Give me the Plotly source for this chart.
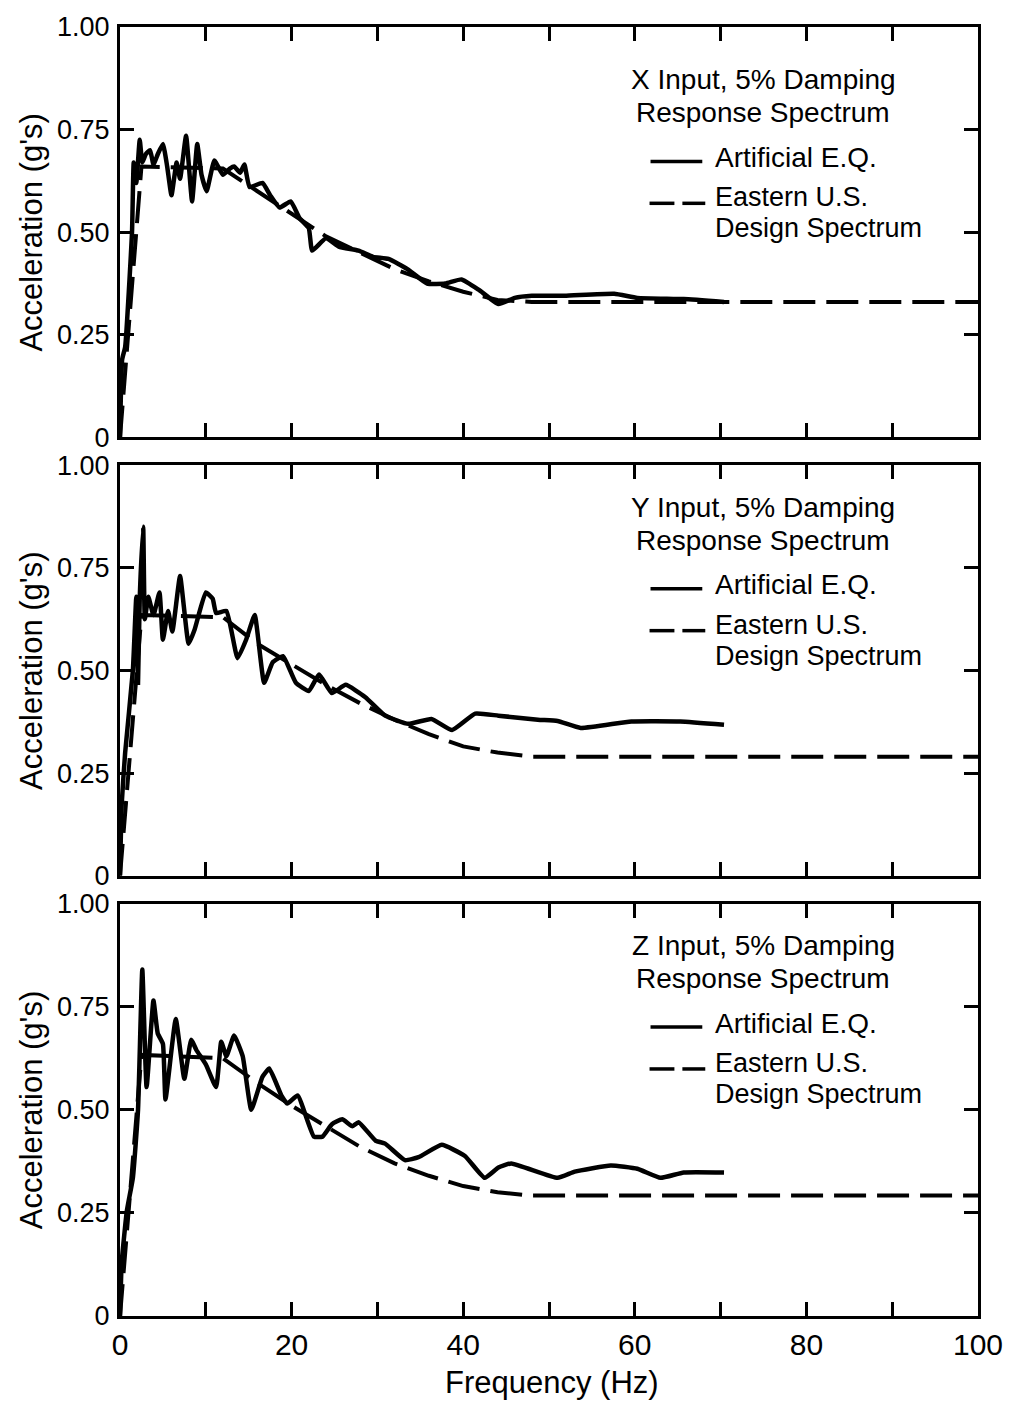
import plotly.graph_objects as go

# ---- Response spectra, 5% damping (frequency in Hz, acceleration in g) ----
freq_x = [0, 0.25, 0.6, 1.4, 1.6, 1.9, 2.3, 2.6, 3.0, 3.5, 3.9, 4.4, 5.0, 5.5, 6.0, 6.6, 7.0, 7.7,
          8.4, 9.0, 9.5, 10.1, 11.0, 12.0, 12.8, 13.3, 14.0, 14.5, 15.1, 16.6, 17.5, 18.6, 19.9,
          20.9, 22.0, 22.4, 24.0, 25.5, 27.8, 29.5, 31.3, 33.5, 35.8, 37.9, 39.8, 41.8, 44.1,
          46.0, 48.0, 51.8, 57.6, 60.3, 65.7, 70.4]
acc_x = [0, 0.19, 0.22, 0.50, 0.67, 0.62, 0.725, 0.67, 0.69, 0.70, 0.665, 0.69, 0.715, 0.66,
         0.59, 0.67, 0.63, 0.735, 0.575, 0.715, 0.64, 0.60, 0.675, 0.64, 0.655, 0.66, 0.645,
         0.665, 0.61, 0.62, 0.59, 0.56, 0.575, 0.535, 0.51, 0.455, 0.485, 0.465, 0.455, 0.44,
         0.435, 0.41, 0.375, 0.375, 0.385, 0.36, 0.325, 0.34, 0.345, 0.345, 0.35, 0.34, 0.337,
         0.33]

freq_y = [0, 0.2, 0.6, 1.5, 1.9, 2.1, 2.3, 2.7, 2.9, 3.3, 3.9, 4.6, 5.0, 5.6, 6.1, 7.0, 8.0, 8.7,
          10.0, 10.8, 11.2, 12.4, 13.7, 14.7, 15.7, 16.8, 17.8, 19.0, 20.5, 22.0, 23.2, 24.7,
          26.3, 28.6, 30.9, 33.6, 36.3, 38.7, 41.4, 44.1, 48.7, 51.0, 53.7, 59.6, 65.3, 70.4]
acc_y = [0, 0.175, 0.30, 0.50, 0.68, 0.47, 0.675, 0.85, 0.625, 0.68, 0.635, 0.69, 0.575, 0.645,
         0.595, 0.73, 0.565, 0.60, 0.69, 0.675, 0.64, 0.645, 0.53, 0.575, 0.635, 0.47, 0.52,
         0.535, 0.47, 0.45, 0.49, 0.445, 0.465, 0.435, 0.39, 0.37, 0.382, 0.355, 0.395, 0.39,
         0.38, 0.377, 0.36, 0.376, 0.376, 0.368]

freq_z = [0, 0.2, 0.8, 1.5, 2.1, 2.6, 3.1, 3.9, 4.4, 5.0, 5.3, 6.5, 7.5, 8.3, 8.9, 10.0, 11.2,
          11.8, 12.4, 13.3, 14.3, 15.3, 16.6, 17.4, 18.8, 19.5, 20.7, 22.6, 23.6, 24.7, 25.9,
          27.1, 27.8, 29.8, 30.9, 33.2, 34.8, 37.5, 40.2, 42.5, 44.1, 45.6, 51.0, 53.0, 57.2,
          60.3, 63.0, 65.7, 70.4]
acc_z = [0, 0.13, 0.255, 0.335, 0.50, 0.84, 0.555, 0.765, 0.685, 0.66, 0.525, 0.72, 0.575,
         0.67, 0.645, 0.61, 0.555, 0.665, 0.63, 0.68, 0.63, 0.50, 0.58, 0.60, 0.535, 0.515,
         0.535, 0.435, 0.435, 0.465, 0.477, 0.46, 0.47, 0.425, 0.418, 0.378, 0.385, 0.415,
         0.388, 0.335, 0.36, 0.37, 0.335, 0.35, 0.365, 0.357, 0.335, 0.348, 0.348]

# Eastern U.S. design spectra
design_freq = [0, 2.5, 12, 16, 20, 24, 28, 32, 36, 40, 44, 48, 100]
design_x = [0, 0.66, 0.655, 0.60, 0.545, 0.49, 0.45, 0.41, 0.38, 0.355, 0.335, 0.33, 0.33]
design_y = [0, 0.635, 0.63, 0.565, 0.515, 0.465, 0.42, 0.38, 0.345, 0.315, 0.30, 0.29, 0.29]
design_z = [0, 0.633, 0.625, 0.565, 0.51, 0.46, 0.41, 0.37, 0.34, 0.315, 0.30, 0.292, 0.292]

panel_titles = ["X Input, 5% Damping", "Y Input, 5% Damping", "Z Input, 5% Damping"]
subtitle = "Response Spectrum"
eq_label = "Artificial E.Q."
design_label = ["Eastern U.S.", "Design Spectrum"]

y_ticks = [0, 0.25, 0.5, 0.75, 1.0]
y_ticktext = ["0", "0.25", "0.50", "0.75", "1.00"]
x_ticks = [0, 10, 20, 30, 40, 50, 60, 70, 80, 90, 100]
x_ticktext = ["0", "", "20", "", "40", "", "60", "", "80", "", "100"]

FONT = "Liberation Sans, Arial, Helvetica, sans-serif"
INK = "#000000"

# ---- page geometry (pixels) ----
W, H = 1015, 1401
L, R, T, B = 120, 33, 22, 85
plot_h = H - T - B
panels_px = [(22, 434), (462, 874), (902, 1316)]   # top, bottom of each panel
legend_shift = [11, 0, 0]


def dom(top, bot):
    y0 = H - B
    return [(y0 - bot) / plot_h, (y0 - top) / plot_h]


series = [(freq_x, acc_x, design_x), (freq_y, acc_y, design_y), (freq_z, acc_z, design_z)]

fig = go.Figure()
for i, (f, a, d) in enumerate(series):
    k = "" if i == 0 else str(i + 1)
    fig.add_trace(go.Scatter(x=design_freq, y=d, mode="lines", xaxis="x" + k, yaxis="y" + k,
                             line=dict(color=INK, width=4, dash="32px,11px"),
                             showlegend=False, hoverinfo="skip"))
    fig.add_trace(go.Scatter(x=f, y=a, mode="lines", xaxis="x" + k, yaxis="y" + k,
                             line=dict(color=INK, width=4.5, shape="spline", smoothing=0.4),
                             showlegend=False))

layout = dict(
    width=W, height=H,
    margin=dict(l=L, r=R, t=T, b=B),
    paper_bgcolor="white", plot_bgcolor="white",
    font=dict(family=FONT, color=INK),
    showlegend=False,
)

axis_common = dict(showline=True, linecolor=INK, linewidth=3, mirror="ticks",
                   ticks="inside", ticklen=14, tickwidth=2.5, tickcolor=INK,
                   showgrid=False, zeroline=False, fixedrange=True)

annotations = []
shapes = []
for i, (top, bot) in enumerate(panels_px):
    k = "" if i == 0 else str(i + 1)
    xa = dict(axis_common, range=[0, 100], domain=[0, 1], anchor="y" + k,
              tickvals=x_ticks, ticktext=x_ticktext,
              showticklabels=(i == 2), tickfont=dict(size=30, family=FONT, color=INK))
    ya = dict(axis_common, range=[0, 1], domain=dom(top, bot), anchor="x" + k,
              tickvals=y_ticks, ticktext=y_ticktext, ticklabelstandoff=2,
              tickfont=dict(size=27, family=FONT, color=INK))
    layout["xaxis" + k] = xa
    layout["yaxis" + k] = ya

    xr, yr = "x" + k + " domain", "y" + k + " domain"
    ph = bot - top

    def yd(py):
        return (bot - py) / ph

    def xd(px):
        return (px - L) / (W - L - R)

    s = legend_shift[i]
    annotations += [
        dict(text=panel_titles[i], x=xd(766), y=yd(top + 42 + s), xref=xr, yref=yr,
             xanchor="center", yanchor="middle", showarrow=False, font=dict(size=28)),
        dict(text=subtitle, x=xd(766), y=yd(top + 75 + s), xref=xr, yref=yr,
             xanchor="center", yanchor="middle", showarrow=False, font=dict(size=28)),
        dict(text=eq_label, x=xd(716), y=yd(top + 120 + s), xref=xr, yref=yr,
             xanchor="left", yanchor="middle", showarrow=False, font=dict(size=28)),
        dict(text=design_label[0], x=xd(716), y=yd(top + 160 + s), xref=xr, yref=yr,
             xanchor="left", yanchor="middle", showarrow=False, font=dict(size=27)),
        dict(text=design_label[1], x=xd(716), y=yd(top + 191 + s), xref=xr, yref=yr,
             xanchor="left", yanchor="middle", showarrow=False, font=dict(size=27)),
        dict(text="Acceleration (g's)", x=xd(31), y=0.5, xref=xr, yref=yr,
             xanchor="center", yanchor="middle", textangle=-90, showarrow=False,
             font=dict(size=31)),
    ]
    # legend key samples
    shapes += [
        dict(type="line", xref=xr, yref=yr, x0=xd(653), x1=xd(705),
             y0=yd(top + 124 + s), y1=yd(top + 124 + s), line=dict(color=INK, width=3.5)),
        dict(type="line", xref=xr, yref=yr, x0=xd(652), x1=xd(677),
             y0=yd(top + 166 + s), y1=yd(top + 166 + s), line=dict(color=INK, width=3.5)),
        dict(type="line", xref=xr, yref=yr, x0=xd(685), x1=xd(708),
             y0=yd(top + 166 + s), y1=yd(top + 166 + s), line=dict(color=INK, width=3.5)),
    ]

annotations.append(dict(text="Frequency (Hz)", x=0.5 - (L + (W - L - R) / 2 - 554) / (W - L - R),
                        y=(H - B - 1383) / plot_h, xref="paper", yref="paper",
                        xanchor="center", yanchor="middle", showarrow=False,
                        font=dict(size=31)))

layout["annotations"] = annotations
layout["shapes"] = shapes
fig.update_layout(**layout)

fig.write_html("out.html")
